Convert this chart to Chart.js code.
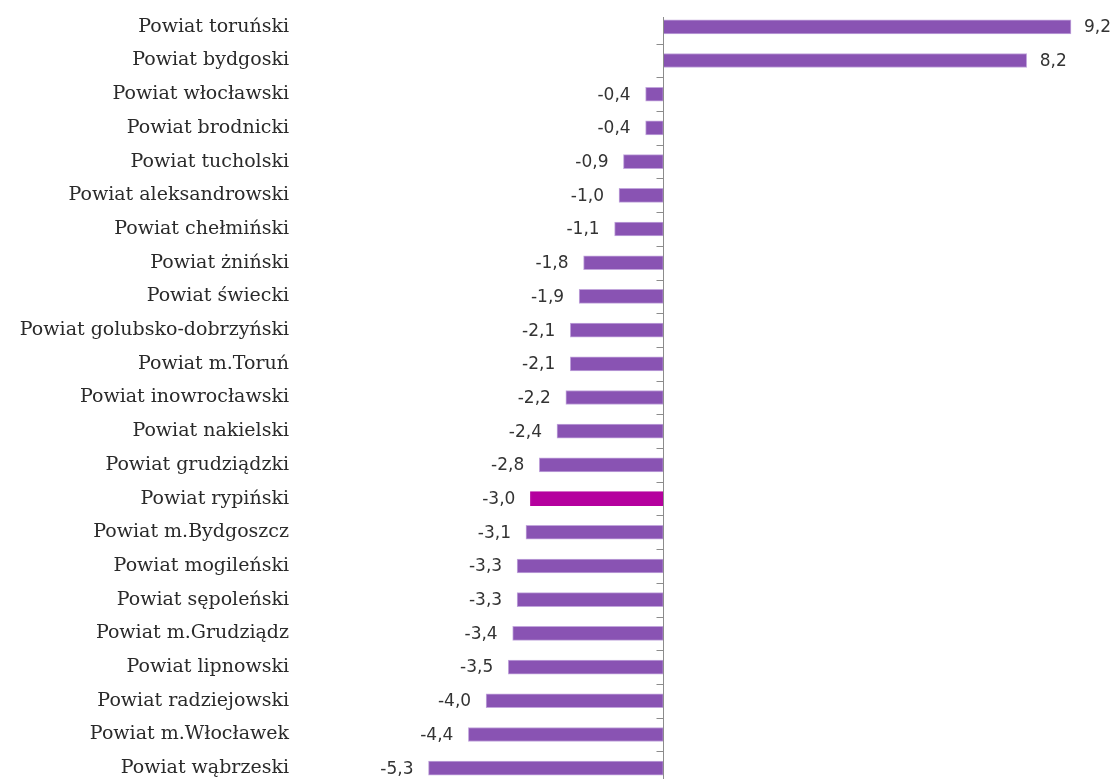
<!DOCTYPE html>
<html lang="pl">
<head>
<meta charset="utf-8">
<script src="https://cdn.jsdelivr.net/npm/chart.js@4.4.1/dist/chart.umd.min.js"></script>
<style>
    html, body { margin: 0; padding: 0; background: #fff; overflow: hidden; }
    canvas { display: block; }
</style>
</head>
<body>
<canvas id="wykresPowiaty" width="1115" height="785"></canvas>
<script>
const powiaty = [
    'Powiat toruński', 'Powiat bydgoski', 'Powiat włocławski', 'Powiat brodnicki',
    'Powiat tucholski', 'Powiat aleksandrowski', 'Powiat chełmiński', 'Powiat żniński',
    'Powiat świecki', 'Powiat golubsko-dobrzyński', 'Powiat m.Toruń', 'Powiat inowrocławski',
    'Powiat nakielski', 'Powiat grudziądzki', 'Powiat rypiński', 'Powiat m.Bydgoszcz',
    'Powiat mogileński', 'Powiat sępoleński', 'Powiat m.Grudziądz', 'Powiat lipnowski',
    'Powiat radziejowski', 'Powiat m.Włocławek', 'Powiat wąbrzeski'
];
const zmiany = [9.2, 8.2, -0.4, -0.4, -0.9, -1.0, -1.1, -1.8, -1.9, -2.1, -2.1, -2.2,
    -2.4, -2.8, -3.0, -3.1, -3.3, -3.3, -3.4, -3.5, -4.0, -4.4, -5.3];
const wyrozniony = 'Powiat rypiński';
const zakresOsi = [-8.2, 9.9];

const kolorSlupka = '#8953b3';
const kolorWyroznienia = '#b5009e';

// etykiety z wartościami przy końcach słupków
const etykietyWartosci = {
    id: 'etykietyWartosci',
    afterDatasetsDraw(chart) {
        const ctx = chart.ctx;
        const meta = chart.getDatasetMeta(0);
        ctx.save();
        ctx.font = '17px "DejaVu Sans"';
        ctx.fillStyle = '#333';
        ctx.textBaseline = 'middle';
        meta.data.forEach((slupek, i) => {
            const v = zmiany[i];
            const tekst = v.toFixed(1).replace('.', ',');
            if (v >= 0) {
                ctx.textAlign = 'left';
                ctx.fillText(tekst, slupek.x + 13, slupek.y + 1);
            } else {
                ctx.textAlign = 'right';
                ctx.fillText(tekst, slupek.x - 15, slupek.y + 1);
            }
        });
        ctx.restore();
    }
};

// oś kategorii w miejscu zera
const osZero = {
    id: 'osZero',
    afterDatasetsDraw(chart) {
        const { ctx, chartArea, scales } = chart;
        const x0 = Math.round(scales.x.getPixelForValue(0)) + 0.5;
        ctx.save();
        ctx.strokeStyle = '#8c8c8c';
        ctx.lineWidth = 1;
        ctx.beginPath();
        ctx.moveTo(x0, chartArea.top + 7);
        ctx.lineTo(x0, chartArea.bottom);
        for (let i = 1; i < powiaty.length; i++) {
            const yy = Math.round((scales.y.getPixelForTick(i - 1) + scales.y.getPixelForTick(i)) / 2) + 0.5;
            ctx.moveTo(x0 - 7, yy);
            ctx.lineTo(x0, yy);
        }
        ctx.stroke();
        ctx.restore();
    }
};

new Chart(document.getElementById('wykresPowiaty'), {
    type: 'bar',
    data: {
        labels: powiaty,
        datasets: [{
            data: zmiany,
            backgroundColor: powiaty.map(p => p === wyrozniony ? kolorWyroznienia : kolorSlupka),
            borderColor: powiaty.map(p => p === wyrozniony ? kolorWyroznienia : '#c2a6dc'),
            borderWidth: 1,
            borderSkipped: false,
            barThickness: 14
        }]
    },
    options: {
        indexAxis: 'y',
        responsive: false,
        animation: false,
        layout: { padding: { top: 10, right: 13, bottom: 0, left: 0 } },
        scales: {
            x: {
                display: false,
                min: zakresOsi[0],
                max: zakresOsi[1]
            },
            y: {
                grid: { display: false, drawTicks: false },
                border: { display: false },
                ticks: {
                    color: '#2a2a2a',
                    padding: 11,
                    autoSkip: false,
                    font: { family: '"DejaVu Serif"', size: 19 }
                },
                afterFit(scale) {
                    scale.width = 300;
                    scale.paddingTop = 0;
                    scale.paddingBottom = 0;
                }
            }
        },
        plugins: {
            legend: { display: false },
            tooltip: { enabled: false }
        }
    },
    plugins: [etykietyWartosci, osZero]
});
</script>
</body>
</html>
